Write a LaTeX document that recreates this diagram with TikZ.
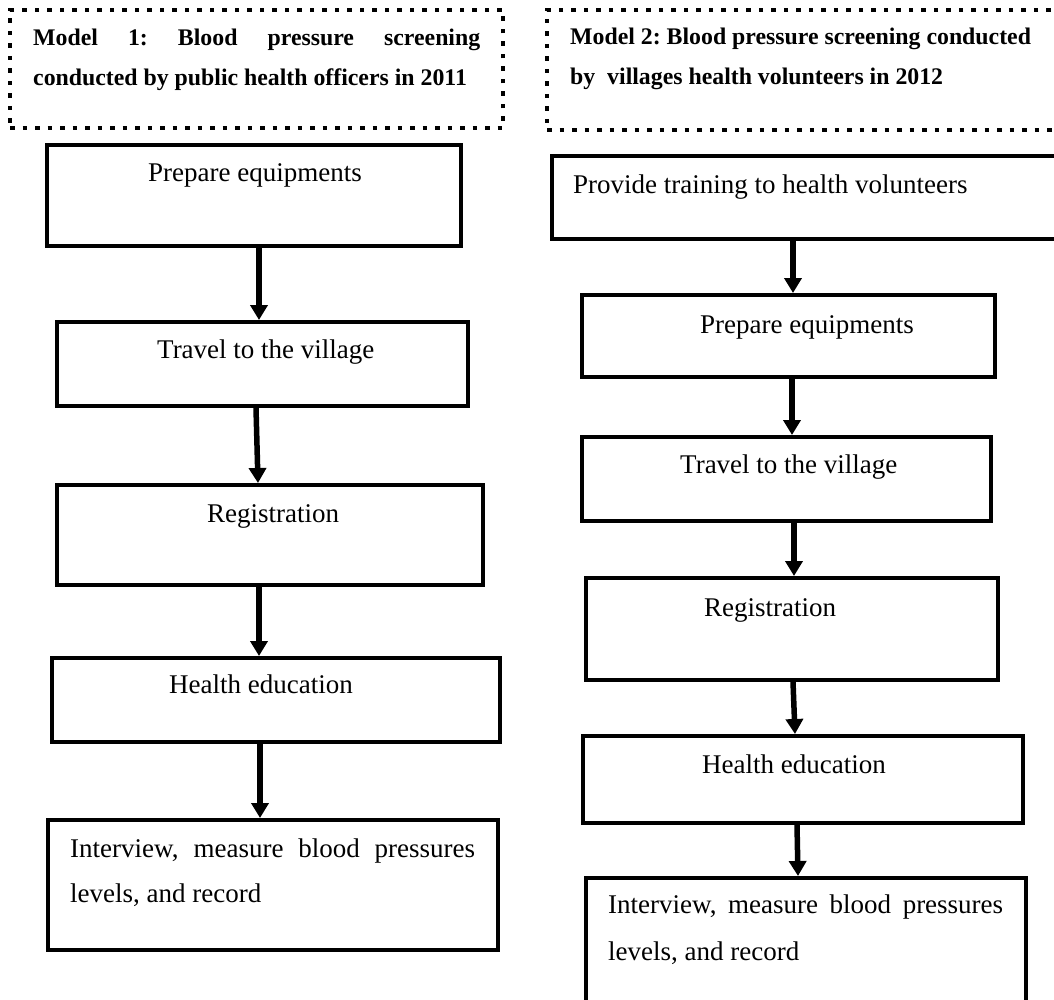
\documentclass[tikz,border=0pt]{standalone}
\usepackage{fontspec}
\setmainfont{Liberation Serif}
\usetikzlibrary{arrows.meta}
\frenchspacing
\begin{document}
\begin{tikzpicture}[x=1pt,y=-1pt,
  stepbox/.style={draw, line width=4pt, inner sep=0pt},
  titlebox/.style={draw, line width=4.5pt, dash pattern=on 4.5pt off 8pt, inner sep=0pt},
  arr/.style={line width=5.5pt, -{Triangle[width=17pt,length=15pt]}},
  body/.style={anchor=base west, inner sep=0pt, font=\fontsize{27}{30}\selectfont},
  ttl/.style={anchor=base west, inner sep=0pt, font=\fontsize{23.8}{28}\selectfont\bfseries}]
\useasboundingbox (0,0) rectangle (1054,1000);
\clip (0,0) rectangle (1054,1000);

% title boxes
\node[titlebox, minimum width=493pt, minimum height=118pt] (T1) at (256.5,69) {};
\node[titlebox, minimum width=523pt, minimum height=120pt] (T2) at (808.5,70) {};
\node[ttl] (t1a) at (33,46) {\makebox[447pt][s]{Model 1: Blood pressure screening}};
\node[ttl] (t1b) at (33,86) {conducted by public health officers in 2011};
\node[ttl] (t2a) at (570,45) {Model 2: Blood pressure screening conducted};
\node[ttl] (t2b) at (570,85) {by\ \ villages health volunteers in 2012};

% left column boxes
\node[stepbox, minimum width=414pt, minimum height=101pt] (L1) at (254,195.5) {};
\node[stepbox, minimum width=411pt, minimum height=84pt] (L2) at (262.5,364) {};
\node[stepbox, minimum width=426pt, minimum height=100pt] (L3) at (270,535) {};
\node[stepbox, minimum width=448pt, minimum height=84pt] (L4) at (276,700) {};
\node[stepbox, minimum width=450pt, minimum height=130pt] (L5) at (273,885) {};

\node[body] (l1t) at (148,182) {Prepare equipments};
\node[body] (l2t) at (157,358) {Travel to the village};
\node[body] (l3t) at (207,522) {Registration};
\node[body] (l4t) at (169,693) {Health education};
\node[body] (l5a) at (70,857) {\makebox[405pt][s]{Interview, measure blood pressures}};
\node[body] (l5b) at (70,902) {levels, and record};

% right column boxes
\node[stepbox, minimum width=518pt, minimum height=83pt] (R1) at (811,197.5) {};
\node[stepbox, minimum width=413pt, minimum height=82pt] (R2) at (788.5,336) {};
\node[stepbox, minimum width=409pt, minimum height=84pt] (R3) at (786.5,479) {};
\node[stepbox, minimum width=412pt, minimum height=102pt] (R4) at (792,629) {};
\node[stepbox, minimum width=440pt, minimum height=87pt] (R5) at (803,779.5) {};
\node[stepbox, minimum width=440pt, minimum height=132pt] (R6) at (806,944) {};

\node[body] (r1t) at (573,194) {Provide training to health volunteers};
\node[body] (r2t) at (700,333) {Prepare equipments};
\node[body] (r3t) at (680,473) {Travel to the village};
\node[body] (r4t) at (704,616) {Registration};
\node[body] (r5t) at (702,773) {Health education};
\node[body] (r6a) at (608,913) {\makebox[395pt][s]{Interview, measure blood pressures}};
\node[body] (r6b) at (608,960) {levels, and record};

% arrows left
\draw[arr] ([xshift=5pt]L1.south) -- ([xshift=-3.5pt]L2.north);
\draw[arr] ([xshift=-6.5pt]L2.south) -- ([xshift=-12pt]L3.north);
\draw[arr] ([xshift=-11pt]L3.south) -- ([xshift=-17pt]L4.north);
\draw[arr] ([xshift=-16pt]L4.south) -- ([xshift=-13pt]L5.north);
% arrows right
\draw[arr] ([xshift=-18pt]R1.south) -- ([xshift=4.5pt]R2.north);
\draw[arr] ([xshift=3.5pt]R2.south) -- ([xshift=5.5pt]R3.north);
\draw[arr] ([xshift=7.5pt]R3.south) -- ([xshift=2pt]R4.north);
\draw[arr] ([xshift=1pt]R4.south) -- ([xshift=-8pt]R5.north);
\draw[arr] ([xshift=-6pt]R5.south) -- ([xshift=-8pt]R6.north);
\end{tikzpicture}
\end{document}
